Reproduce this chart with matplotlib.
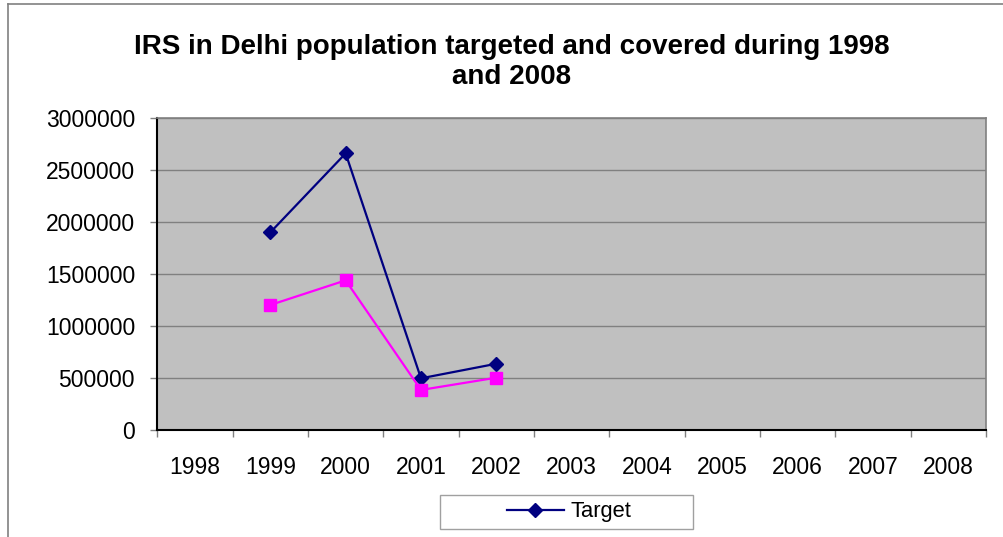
import numpy as np
import matplotlib
matplotlib.use("Agg")
import matplotlib.pyplot as plt
from matplotlib.lines import Line2D
from matplotlib.patches import Rectangle

plt.rcParams['font.family'] = ['Liberation Sans', 'DejaVu Sans']

years = ['1998', '1999', '2000', '2001', '2002', '2003', '2004', '2005', '2006', '2007', '2008']
target_years = ['1999', '2000', '2001', '2002']
target = [1900000, 2660000, 497000, 637000]
covered = [1202000, 1439000, 385000, 503000]

W, H = 1004, 537
fig = plt.figure(figsize=(W / 100, H / 100), dpi=100)

# outer chart border (only left and top visible in the crop)
fig.add_artist(Line2D([8 / W, 8 / W], [0, 1 - 4 / H], color='#808080', lw=1.2, transform=fig.transFigure))
fig.add_artist(Line2D([8 / W, 1], [1 - 4 / H, 1 - 4 / H], color='#808080', lw=1.2, transform=fig.transFigure))

ax = fig.add_axes([157.3 / W, (H - 430) / H, (986 - 157.3) / W, 312 / H])
ax.set_facecolor('#C0C0C0')

xpos = [years.index(y) + 0.5 for y in target_years]
ax.plot(xpos, target, color='#000080', lw=1.6, marker='D', markersize=7.5, label='Target', zorder=3)
ax.plot(xpos, covered, color='#FF00FF', lw=1.6, marker='s', markersize=9, zorder=3)

ax.set_xlim(0, len(years))
ax.set_ylim(0, 3000000)
ax.set_yticks(np.arange(0, 3000001, 500000))
ax.set_yticklabels([str(v) for v in range(0, 3000001, 500000)], fontsize=16.5)
ax.set_xticks(np.arange(0, len(years) + 1))
ax.set_xticklabels([])
ax.set_xticks(np.arange(len(years)) + 0.5, minor=True)
ax.set_xticklabels(years, minor=True, fontsize=16.5)
ax.tick_params(axis='x', which='major', length=5, color='#808080', width=1)
ax.tick_params(axis='x', which='minor', length=0, pad=19)
ax.tick_params(axis='y', length=5, color='#808080', width=1, pad=11)

ax.grid(axis='y', color='#808080', lw=1)
ax.set_axisbelow(True)
for s in ['top', 'right']:
    ax.spines[s].set_color('#808080')
    ax.spines[s].set_linewidth(1.2)
for s in ['left', 'bottom']:
    ax.spines[s].set_color('black')
    ax.spines[s].set_linewidth(1.5)

fig.text(512 / W, 1 - 62 / H, 'IRS in Delhi population targeted and covered during 1998\nand 2008',
         ha='center', va='center', fontsize=20, fontweight='bold', linespacing=1.15)

# legend box (wider than its content, as in the original)
fig.add_artist(Rectangle((440 / W, 1 - 529 / H), 253 / W, 34 / H, transform=fig.transFigure,
                         facecolor='white', edgecolor='#A0A0A0', lw=1, zorder=1))
leg = fig.legend(loc='center', bbox_to_anchor=(569 / W, 1 - 512 / H), fontsize=15.8, frameon=False,
                 handlelength=2.6, borderpad=0.2, handletextpad=0.3)
leg.set_zorder(2)

fig.savefig('out.png', dpi=100)
